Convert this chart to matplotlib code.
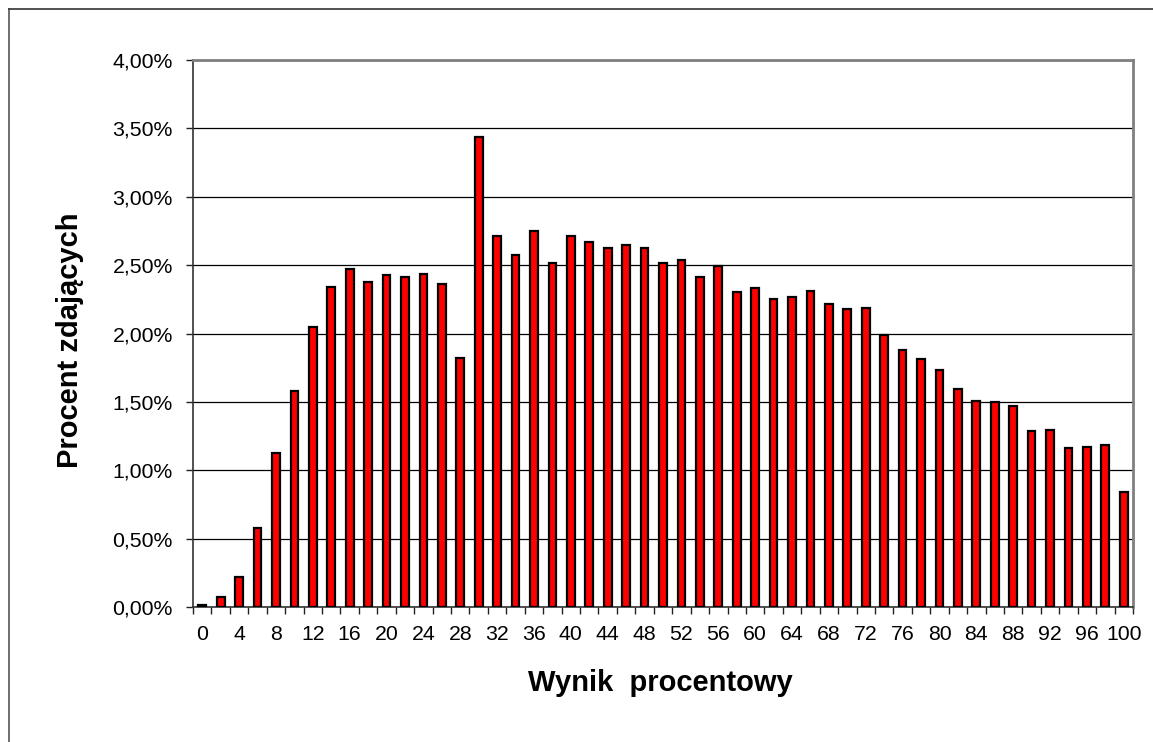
import numpy as np
import matplotlib
matplotlib.use("Agg")
import matplotlib.pyplot as plt
from matplotlib.lines import Line2D

plt.rcParams["font.family"] = ["Liberation Sans", "DejaVu Sans"]

# wynik procentowy (kategorie co 2 punkty)
scores = list(range(0, 101, 2))
# procent zdajacych dla kazdego wyniku
percent = [
    0.012, 0.074, 0.222, 0.575, 1.126, 1.583, 2.047, 2.343, 2.469, 2.375,
    2.430, 2.410, 2.437, 2.363, 1.822, 3.435, 2.711, 2.573, 2.746, 2.514,
    2.711, 2.672, 2.622, 2.649, 2.627, 2.517, 2.541, 2.410, 2.495, 2.300,
    2.332, 2.254, 2.269, 2.312, 2.215, 2.176, 2.188, 1.991, 1.877, 1.811,
    1.733, 1.594, 1.507, 1.499, 1.470, 1.290, 1.295, 1.166, 1.173, 1.181,
    0.842,
]
y_ticks = [0.0, 0.5, 1.0, 1.5, 2.0, 2.5, 3.0, 3.5, 4.0]
x_labels = [str(s) for s in scores[::2]]

W, H = 1153, 742
fig = plt.figure(figsize=(W / 100, H / 100), dpi=100)
ax = fig.add_axes([193 / W, 1 - 607 / H, (1133 - 193) / W, (607 - 60) / H])

idx = np.arange(len(scores))
ax.bar(idx, percent, width=0.42, color="#ff0000", edgecolor="black",
       linewidth=1.6, zorder=3)

ax.set_xlim(-0.5, len(scores) - 0.5)
ax.set_ylim(0, 4.0)

# siatka pozioma
ax.set_yticks(y_ticks)
ax.set_yticklabels([f"{v:.2f}".replace(".", ",") + "%" for v in y_ticks])
ax.grid(axis="y", color="black", linewidth=0.9, zorder=0)

# kreski osi X na granicach kategorii, etykiety co 4
ax.set_xticks(np.arange(-0.5, len(scores), 1.0))
ax.set_xticklabels([])
ax.set_xticks(idx[::2], minor=True)
ax.set_xticklabels(x_labels, minor=True)
ax.tick_params(axis="x", which="major", length=5, width=1, color="#222222")
ax.tick_params(axis="x", which="minor", length=0, pad=13, labelsize=15.3)
ax.tick_params(axis="y", length=5, width=1, color="#222222", pad=9.5,
               labelsize=15.3)

for s in ["top", "right"]:
    ax.spines[s].set_color("#808080")
    ax.spines[s].set_linewidth(2)
for s in ["left", "bottom"]:
    ax.spines[s].set_color("#333333")
    ax.spines[s].set_linewidth(1.2)

fig.text(660 / W, 1 - 683 / H, "Wynik  procentowy", ha="center", va="center",
         fontsize=21, fontweight="bold")
fig.text(70 / W, 1 - 340 / H, "Procent zdających", ha="center", va="center",
         rotation=90, fontsize=21, fontweight="bold")

# ramka wykresu (widoczna tylko z lewej i od gory)
fig.add_artist(Line2D([9 / W, 9 / W], [1 - 9 / H, 0], color="#555555",
                      linewidth=1.2, transform=fig.transFigure))
fig.add_artist(Line2D([9 / W, 1], [1 - 9 / H, 1 - 9 / H], color="#333333",
                      linewidth=1.2, transform=fig.transFigure))

fig.savefig("out.png", dpi=100)
